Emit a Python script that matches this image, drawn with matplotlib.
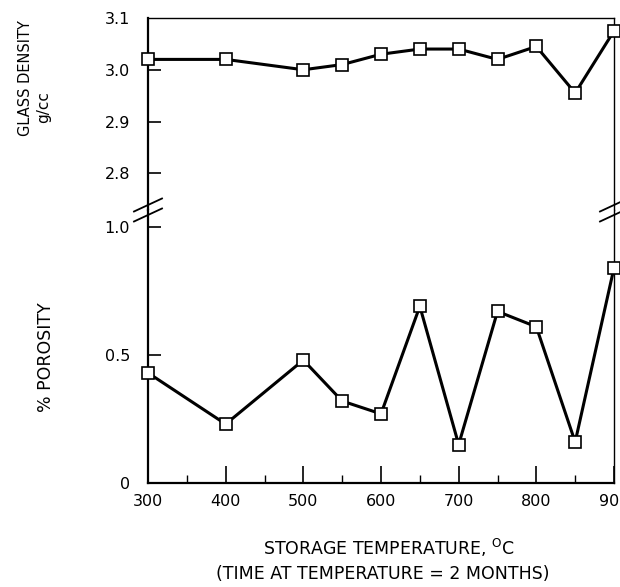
import numpy as np
import matplotlib
matplotlib.use("Agg")
import matplotlib.pyplot as plt
from matplotlib.lines import Line2D

plt.rcParams["font.family"] = ["DejaVu Sans"]

# Storage temperature (deg C)
temps = [300, 400, 500, 550, 600, 650, 700, 750, 800, 850, 900]
# Glass density (g/cc)
density = [3.02, 3.02, 3.00, 3.01, 3.03, 3.04, 3.04, 3.02, 3.045, 2.955, 3.075]
# Porosity (%)
porosity = [0.43, 0.23, 0.48, 0.32, 0.27, 0.69, 0.15, 0.67, 0.61, 0.16, 0.84]

x_major = [300, 400, 500, 600, 700, 800, 900]
x_minor = [350, 450, 550, 650, 750, 850]

W, H = 620, 587
fig = plt.figure(figsize=(W / 100, H / 100), dpi=100)

left, right = 148 / W, 614 / W
y_top, y_break, y_bot = 1 - 18 / H, 1 - 210 / H, 1 - 483 / H

ax_top = fig.add_axes([left, y_break, right - left, y_top - y_break])
ax_bot = fig.add_axes([left, y_bot, right - left, y_break - y_bot])

line_kw = dict(color="black", linewidth=2.2, marker="s", markersize=9,
               markerfacecolor="white", markeredgecolor="black",
               markeredgewidth=1.2, clip_on=False, zorder=3)
ax_top.plot(temps, density, **line_kw)
ax_bot.plot(temps, porosity, **line_kw)

for ax in (ax_top, ax_bot):
    ax.set_xlim(300, 900)
    ax.spines["left"].set_linewidth(1.6)
    ax.spines["right"].set_linewidth(1.0)

ax_top.set_ylim(2.729, 3.1)
ax_top.set_yticks([2.8, 2.9, 3.0, 3.1])
ax_top.set_yticklabels(["2.8", "2.9", "3.0", "3.1"])
ax_top.spines["bottom"].set_visible(False)
ax_top.spines["top"].set_linewidth(1.0)
ax_top.set_xticks([])
ax_top.tick_params(axis="y", direction="in", length=9.5, width=1.2,
                   pad=13, labelsize=11.5)
ax_top.yaxis.get_major_ticks()[-1].tick1line.set_visible(False)

ax_bot.set_ylim(0, 1.066)
ax_bot.set_yticks([0, 0.5, 1.0])
ax_bot.set_yticklabels(["0", "0.5", "1.0"])
ax_bot.spines["top"].set_visible(False)
ax_bot.spines["bottom"].set_linewidth(1.6)
ax_bot.set_xticks(x_major)
ax_bot.set_xticklabels([str(t) for t in x_major])
ax_bot.set_xticks(x_minor, minor=True)
ax_bot.tick_params(axis="x", which="major", direction="in", length=12.5,
                   width=1.2, pad=8, labelsize=11.5)
ax_bot.tick_params(axis="x", which="minor", direction="in", length=6, width=1.0)
ax_bot.tick_params(axis="y", direction="in", length=9.5, width=1.2,
                   pad=13, labelsize=11.5)
ax_bot.yaxis.get_major_ticks()[0].tick1line.set_visible(False)

# axis break marks
for xc in (148, 614):
    for dy in (-5, 5):
        yc = 210 + dy
        fig.add_artist(Line2D([(xc - 14) / W, (xc + 14) / W],
                              [1 - (yc + 6.5) / H, 1 - (yc - 6.5) / H],
                              transform=fig.transFigure, color="black",
                              linewidth=1.3))

fig.text(26 / W, 1 - 78 / H, "GLASS DENSITY", rotation=90, ha="center",
         va="center", fontsize=10.5)
fig.text(44 / W, 1 - 123 / H, "g/cc", rotation=90, ha="center",
         va="bottom", fontsize=11)
fig.text(46 / W, 1 - 357 / H, "% POROSITY", rotation=90, ha="center",
         va="center", fontsize=12.5)
fig.text(389 / W, 1 - 548 / H, "STORAGE TEMPERATURE, $^{\\mathrm{O}}$C",
         ha="center", va="center", fontsize=12.5)
fig.text(383 / W, 1 - 574 / H, "(TIME AT TEMPERATURE = 2 MONTHS)",
         ha="center", va="center", fontsize=12.5)

fig.savefig("out.png", dpi=100)
